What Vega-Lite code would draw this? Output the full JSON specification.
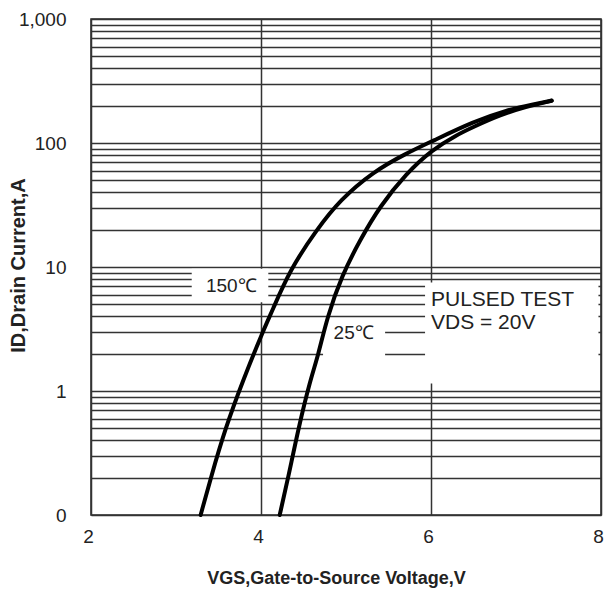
{
  "$schema": "https://vega.github.io/schema/vega-lite/v6.json",
  "width": 510,
  "height": 496,
  "autosize": {"type": "none"},
  "padding": {"left": 91, "top": 19, "right": 3, "bottom": 79},
  "background": "white",
  "config": {"view": {"stroke": "#222", "strokeWidth": 1.5}, "font": "Liberation Sans"},
  "datasets": {
    "curves": [
      {"T": "150", "V": 3.29, "I": 0.1},
      {"T": "150", "V": 3.41, "I": 0.2},
      {"T": "150", "V": 3.58, "I": 0.5},
      {"T": "150", "V": 3.79, "I": 1.23},
      {"T": "150", "V": 4.02, "I": 3.0},
      {"T": "150", "V": 4.13, "I": 4.4},
      {"T": "150", "V": 4.34, "I": 9.5},
      {"T": "150", "V": 4.655, "I": 20},
      {"T": "150", "V": 4.93, "I": 34.7},
      {"T": "150", "V": 5.32, "I": 58.7},
      {"T": "150", "V": 5.71, "I": 82.6},
      {"T": "150", "V": 6.01, "I": 103},
      {"T": "150", "V": 6.5, "I": 149},
      {"T": "150", "V": 6.9, "I": 185},
      {"T": "150", "V": 7.2, "I": 205},
      {"T": "150", "V": 7.42, "I": 220},
      {"T": "25", "V": 4.22, "I": 0.1},
      {"T": "25", "V": 4.32, "I": 0.2},
      {"T": "25", "V": 4.44, "I": 0.5},
      {"T": "25", "V": 4.58, "I": 1.23},
      {"T": "25", "V": 4.67, "I": 1.9},
      {"T": "25", "V": 4.78, "I": 3.97},
      {"T": "25", "V": 4.95, "I": 8.5},
      {"T": "25", "V": 5.165, "I": 16.5},
      {"T": "25", "V": 5.4, "I": 31},
      {"T": "25", "V": 5.71, "I": 57},
      {"T": "25", "V": 6.01, "I": 88},
      {"T": "25", "V": 6.3, "I": 116},
      {"T": "25", "V": 6.5, "I": 135},
      {"T": "25", "V": 6.81, "I": 168},
      {"T": "25", "V": 7.1, "I": 195},
      {"T": "25", "V": 7.42, "I": 219}
    ],
    "boxes": [
      {"x1": 3.185, "x2": 4.086, "y1": 5.2, "y2": 9.7},
      {"x1": 4.73, "x2": 5.46, "y1": 1.62, "y2": 3.85},
      {"x1": 5.93, "x2": 7.97, "y1": 1.15, "y2": 7.5}
    ],
    "centerLabels": [
      {"label": "150℃", "V": 3.65, "I": 7.0},
      {"label": "25℃", "V": 5.09, "I": 2.95}
    ],
    "leftLabels": [
      {"label": "PULSED TEST", "V": 6.0, "I": 5.42},
      {"label": "VDS = 20V", "V": 6.0, "I": 3.52}
    ]
  },
  "layer": [
    {
      "data": {"name": "boxes"},
      "mark": {"type": "rect", "fill": "white", "strokeWidth": 0},
      "encoding": {
        "x": {
          "field": "x1", "type": "quantitative",
          "scale": {"domain": [2, 8], "nice": false, "zero": false},
          "axis": {
            "values": [2, 4, 6, 8], "format": "d", "grid": true, "gridColor": "#333", "gridWidth": 1.5,
            "ticks": false, "domain": false, "labelFlush": false, "labelOffset": -3,
            "labelFontSize": 19, "labelColor": "#222", "labelPadding": 12, "labelFont": "Liberation Sans",
            "title": "VGS,Gate-to-Source Voltage,V", "titleFontSize": 18, "titleFontWeight": "bold",
            "titleColor": "#222", "titleFont": "Liberation Sans", "titleX": 245, "titleY": 63,
            "titleAlign": "center", "titleBaseline": "middle"
          }
        },
        "x2": {"field": "x2"},
        "y": {
          "field": "y1", "type": "quantitative",
          "scale": {"type": "log", "domain": [0.1, 1000], "nice": false},
          "axis": {
            "values": [0.1, 0.2, 0.3, 0.4, 0.5, 0.6, 0.7, 0.8, 0.9, 1, 2, 3, 4, 5, 6, 7, 8, 9, 10, 20, 30, 40, 50, 60, 70, 80, 90, 100, 200, 300, 400, 500, 600, 700, 800, 900, 1000],
            "format": ",.0f",
            "labelExpr": "(datum.value == 0.1 || datum.value == 1 || datum.value == 10 || datum.value == 100 || datum.value == 1000) ? datum.label : ''",
            "labelOverlap": false, "labelBound": false, "labelFlush": false,
            "grid": true, "gridColor": "#333", "gridWidth": 1.5,
            "ticks": false, "domain": false,
            "labelFontSize": 19, "labelColor": "#222", "labelPadding": 25, "labelFont": "Liberation Sans",
            "title": "ID,Drain Current,A", "titleFontSize": 20, "titleFontWeight": "bold",
            "titleColor": "#222", "titleFont": "Liberation Sans", "titleAngle": -90,
            "titleX": -73, "titleY": 246, "titleAlign": "center", "titleBaseline": "middle"
          }
        },
        "y2": {"field": "y2"}
      }
    },
    {
      "data": {"name": "curves"},
      "mark": {"type": "line", "color": "black", "strokeWidth": 4, "interpolate": "basis", "strokeCap": "round"},
      "encoding": {
        "x": {"field": "V", "type": "quantitative"},
        "y": {"field": "I", "type": "quantitative"},
        "detail": {"field": "T", "type": "nominal"}
      }
    },
    {
      "data": {"name": "centerLabels"},
      "mark": {"type": "text", "fontSize": 19, "color": "#222", "align": "center", "baseline": "middle", "font": "Liberation Sans"},
      "encoding": {
        "x": {"field": "V", "type": "quantitative"},
        "y": {"field": "I", "type": "quantitative"},
        "text": {"field": "label", "type": "nominal"}
      }
    },
    {
      "data": {"name": "leftLabels"},
      "mark": {"type": "text", "fontSize": 21, "color": "#222", "align": "left", "baseline": "middle", "font": "Liberation Sans"},
      "encoding": {
        "x": {"field": "V", "type": "quantitative"},
        "y": {"field": "I", "type": "quantitative"},
        "text": {"field": "label", "type": "nominal"}
      }
    }
  ]
}
